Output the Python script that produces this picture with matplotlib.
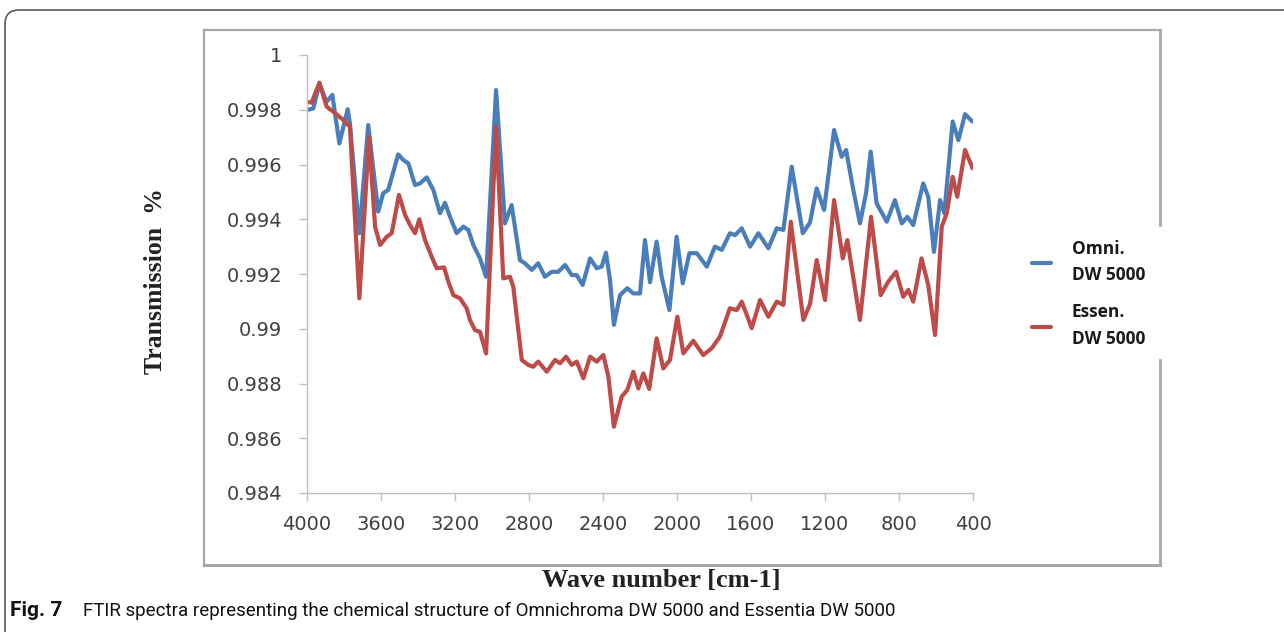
import matplotlib
matplotlib.use("Agg")
import matplotlib.pyplot as plt
from matplotlib.lines import Line2D
from matplotlib.patches import FancyBboxPatch
from matplotlib.transforms import IdentityTransform

# --- data (wave number, transmission) ---
omni_wn = [4000, 3966, 3933, 3894, 3863, 3825, 3780, 3768, 3717, 3669,
           3615, 3588, 3561, 3507, 3479, 3452, 3416, 3389, 3353, 3317,
           3281, 3254, 3227, 3191, 3155, 3128, 3101, 3065, 3032, 2978,
           2930, 2894, 2849, 2822, 2785, 2750, 2714, 2677, 2642, 2605,
           2569, 2542, 2510, 2470, 2434, 2407, 2384, 2362, 2341, 2308,
           2269, 2236, 2200, 2173, 2146, 2110, 2083, 2041, 2002, 1969,
           1933, 1893, 1839, 1795, 1758, 1714, 1686, 1650, 1605, 1560,
           1506, 1461, 1425, 1380, 1320, 1281, 1245, 1205, 1151, 1110,
           1086, 1047, 1011, 978, 953, 921, 866, 822, 785, 755,
           723, 669, 642, 611, 578, 555, 510, 479, 443, 404]
omni_t = [0.99799, 0.99805, 0.99894, 0.99829, 0.99854, 0.99677, 0.99802, 0.99750, 0.99349, 0.99744,
          0.99428, 0.99495, 0.99507, 0.99637, 0.99616, 0.99604, 0.99525, 0.99531, 0.99553, 0.99507,
          0.99422, 0.99460, 0.99409, 0.99349, 0.99373, 0.99361, 0.99306, 0.99257, 0.99190, 0.99872,
          0.99385, 0.99452, 0.99251, 0.99239, 0.99215, 0.99239, 0.99190, 0.99208, 0.99208, 0.99233,
          0.99196, 0.99196, 0.99160, 0.99257, 0.99221, 0.99227, 0.99278, 0.99178, 0.99014, 0.99123,
          0.99148, 0.99129, 0.99129, 0.99324, 0.99170, 0.99318, 0.99190, 0.99068, 0.99336, 0.99166,
          0.99276, 0.99276, 0.99227, 0.99300, 0.99288, 0.99349, 0.99342, 0.99367, 0.99300, 0.99349,
          0.99294, 0.99367, 0.99361, 0.99592, 0.99349, 0.99388, 0.99513, 0.99434, 0.99726, 0.99628,
          0.99653, 0.99507, 0.99385, 0.99495, 0.99647, 0.99458, 0.99391, 0.99470, 0.99385, 0.99409,
          0.99379, 0.99531, 0.99482, 0.99281, 0.99470, 0.99422, 0.99757, 0.99689, 0.99784, 0.99757]

essen_wn = [4000, 3975, 3933, 3894, 3858, 3804, 3768, 3717, 3665, 3632,
            3605, 3569, 3542, 3503, 3470, 3443, 3416, 3393, 3362, 3326,
            3299, 3259, 3236, 3209, 3173, 3137, 3119, 3092, 3065, 3032,
            2978, 2939, 2903, 2885, 2839, 2804, 2777, 2750, 2704, 2659,
            2632, 2600, 2569, 2542, 2506, 2470, 2434, 2398, 2371, 2341,
            2299, 2269, 2236, 2209, 2182, 2150, 2110, 2074, 2038, 1998,
            1966, 1912, 1858, 1812, 1768, 1714, 1677, 1650, 1596, 1551,
            1506, 1461, 1425, 1385, 1317, 1281, 1245, 1200, 1151, 1104,
            1079, 1011, 951, 899, 858, 816, 777, 750, 723, 678,
            642, 605, 569, 542, 510, 485, 443, 402]
essen_t = [0.99829, 0.99826, 0.99899, 0.99811, 0.99793, 0.99763, 0.99738, 0.99111, 0.99702, 0.99373,
           0.99306, 0.99336, 0.99349, 0.99489, 0.99416, 0.99379, 0.99349, 0.99400, 0.99324, 0.99263,
           0.99221, 0.99224, 0.99172, 0.99123, 0.99111, 0.99075, 0.99032, 0.98995, 0.98989, 0.98910,
           0.99738, 0.99184, 0.99190, 0.99154, 0.98886, 0.98868, 0.98861, 0.98880, 0.98843, 0.98886,
           0.98874, 0.98898, 0.98868, 0.98880, 0.98819, 0.98898, 0.98880, 0.98904, 0.98825, 0.98642,
           0.98752, 0.98776, 0.98843, 0.98782, 0.98837, 0.98780, 0.98965, 0.98855, 0.98886, 0.99044,
           0.98910, 0.98956, 0.98904, 0.98929, 0.98971, 0.99075, 0.99068, 0.99099, 0.99002, 0.99105,
           0.99044, 0.99099, 0.99087, 0.99391, 0.99032, 0.99090, 0.99251, 0.99105, 0.99470, 0.99257,
           0.99324, 0.99032, 0.99409, 0.99123, 0.99172, 0.99208, 0.99117, 0.99142, 0.99099, 0.99257,
           0.99160, 0.98977, 0.99373, 0.99422, 0.99555, 0.99482, 0.99653, 0.99586]

x_ticks = [4000, 3600, 3200, 2800, 2400, 2000, 1600, 1200, 800, 400]
y_ticks = [0.984, 0.986, 0.988, 0.99, 0.992, 0.994, 0.996, 0.998, 1.0]
y_tick_labels = ["0.984", "0.986", "0.988", "0.99", "0.992", "0.994", "0.996", "0.998", "1"]
series_names = ["Omni.\nDW 5000", "Essen.\nDW 5000"]

W, H = 1284, 632
fig = plt.figure(figsize=(W / 100, H / 100), dpi=100)

# axes placed in pixel terms
left, right, top, bottom = 307, 973, 55, 493
ax = fig.add_axes([left / W, 1 - bottom / H, (right - left) / W, (bottom - top) / H])

blue = "#4A7EBB"
red = "#BE4B48"
l1, = ax.plot(omni_wn, omni_t, color=blue, lw=3.0, solid_joinstyle="round", solid_capstyle="round")
l2, = ax.plot(essen_wn, essen_t, color=red, lw=3.0, solid_joinstyle="round", solid_capstyle="round")

ax.set_xlim(4000, 400)
ax.set_ylim(0.984, 1.0)
ax.set_xticks(x_ticks)
ax.set_xticklabels([str(v) for v in x_ticks])
ax.set_yticks(y_ticks)
ax.set_yticklabels(y_tick_labels)

for s in ["top", "right"]:
    ax.spines[s].set_visible(False)
for s in ["left", "bottom"]:
    ax.spines[s].set_color("#c0c0c0")
    ax.spines[s].set_linewidth(1.0)
ax.tick_params(axis="both", direction="out", length=6, width=1, color="#c0c0c0",
               labelsize=14, labelcolor="#404040")
ax.tick_params(axis="x", pad=10)
ax.tick_params(axis="y", pad=12)
for t in ax.get_xticklabels() + ax.get_yticklabels():
    t.set_fontfamily("DejaVu Sans")

# axis titles (serif bold, like the original)
fig.text(155 / W, 1 - 281 / H, "Transmission  %", rotation=90, ha="center", va="center",
         family="Liberation Serif", fontweight="bold", fontsize=18.5, color="#222222")
fig.text(661 / W, 1 - 580 / H, "Wave number [cm-1]", ha="center", va="center",
         family="Liberation Serif", fontweight="bold", fontsize=19, color="#222222")

# legend on the right, outside the plot area
leg = ax.legend([l1, l2], series_names, loc="upper left",
                bbox_to_anchor=(1032 / W, 1 - 240 / H), bbox_transform=fig.transFigure,
                frameon=False, borderpad=0, borderaxespad=0, handlelength=1.1,
                handletextpad=1.2, labelspacing=1.1,
                prop={"family": "Open Sans", "weight": "bold", "size": 12.5})
for t in leg.get_texts():
    t.set_linespacing(1.6)
    t.set_color("#1a1a1a")

# grey chart frame with a gap where the legend sits
px = IdentityTransform()
fl, fr, ft, fb = 204, 1160, 30, 565
gray = "#a8a8a8"
def seg(x0, y0, x1, y1, lw=1.6):
    fig.add_artist(Line2D([x0, x1], [H - y0, H - y1], transform=px, color=gray, lw=lw))
seg(fl, ft, fr, ft)
seg(fl, ft, fl, fb)
seg(fl, fb, fr, fb, lw=2.2)
seg(fr, ft, fr, 225, lw=2.0)
seg(fr, 360, fr, fb, lw=2.0)

# outer rounded figure frame
fig.add_artist(FancyBboxPatch((5, -40), W + 40, H - 10 + 40, transform=px,
                              boxstyle="round,pad=0,rounding_size=14",
                              fill=False, edgecolor="#5a5a5a", lw=1.2))

# caption
fig.text(10 / W, 1 - 611 / H, "Fig. 7", ha="left", va="center",
         family="Roboto", fontweight="bold", fontsize=15, color="#111111")
fig.text(83 / W, 1 - 611 / H,
         "FTIR spectra representing the chemical structure of Omnichroma DW 5000 and Essentia DW 5000",
         ha="left", va="center", family="Roboto", fontsize=13.5, color="#111111")

fig.savefig("out.png", dpi=100)
